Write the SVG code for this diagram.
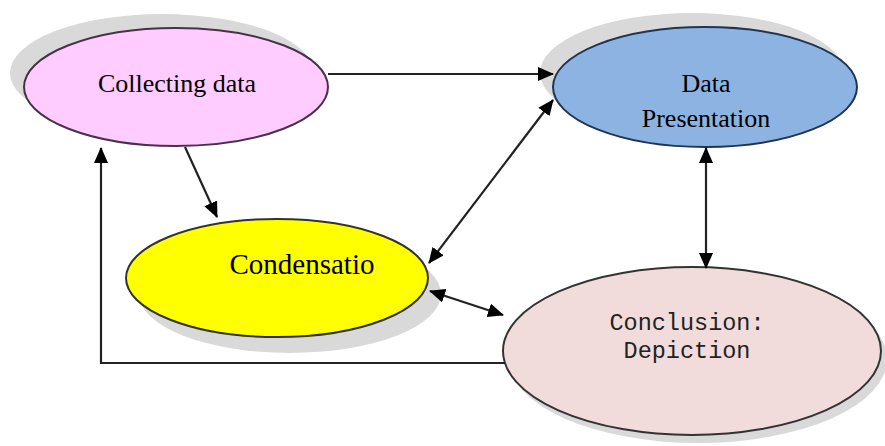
<svg xmlns="http://www.w3.org/2000/svg" width="885" height="446" viewBox="0 0 885 446">
<defs>
<marker id="ah" markerUnits="userSpaceOnUse" markerWidth="16" markerHeight="14" refX="15" refY="7" orient="auto-start-reverse">
<path d="M0,0 L16,7 L0,14 Z" fill="#000"/>
</marker>
<style>
.shadow{fill:#d9d9d9;stroke:none}
.node{stroke-width:2}
.serif{font-family:"Liberation Serif","Times New Roman",serif;fill:#000}
.mono{font-family:"Liberation Mono","Courier New",monospace;fill:#222}
.conn{fill:none;stroke:#222;stroke-width:2.2}
</style>
</defs>
<rect width="885" height="446" fill="#fff"/>
<g id="node-collecting">
<ellipse class="shadow" cx="162" cy="73" rx="152" ry="59"/>
<ellipse class="node" cx="176" cy="87" rx="152" ry="59" fill="#ffccff" stroke="#4a2f4a"/>
<text class="serif" x="177" y="92" font-size="26" text-anchor="middle">Collecting data</text>
</g>
<g id="node-presentation">
<ellipse class="shadow" cx="692" cy="73" rx="152" ry="60"/>
<ellipse class="node" cx="705" cy="87" rx="152" ry="60" fill="#8db3e2" stroke="#1f3553"/>
<text class="serif" x="706" y="92" font-size="26" text-anchor="middle">Data</text>
<text class="serif" x="706" y="127" font-size="26" text-anchor="middle">Presentation</text>
</g>
<g id="node-condensatio">
<ellipse class="shadow" cx="290" cy="294" rx="151" ry="59" fill="#d8d8e0"/>
<ellipse class="node" cx="277" cy="278" rx="151" ry="59" fill="#ffff00" stroke="#333"/>
<text class="serif" x="302" y="274" font-size="29" text-anchor="middle">Condensatio</text>
</g>
<g id="node-conclusion">
<ellipse class="shadow" cx="698" cy="359" rx="189" ry="84"/>
<ellipse class="node" cx="692" cy="351" rx="189" ry="84" fill="#f2dcdb" stroke="#333"/>
<text class="mono" x="687" y="330" font-size="23.5" text-anchor="middle">Conclusion:</text>
<text class="mono" x="687" y="358" font-size="23.5" text-anchor="middle">Depiction</text>
</g>
<g id="connectors">
<line class="conn" x1="328" y1="74" x2="553" y2="74" marker-end="url(#ah)"/>
<line class="conn" x1="553" y1="100" x2="429" y2="263" marker-start="url(#ah)" marker-end="url(#ah)"/>
<line class="conn" x1="185" y1="147" x2="217" y2="217" marker-end="url(#ah)"/>
<line class="conn" x1="706" y1="148" x2="706" y2="268" marker-start="url(#ah)" marker-end="url(#ah)"/>
<line class="conn" x1="430" y1="291" x2="503" y2="315" marker-start="url(#ah)" marker-end="url(#ah)"/>
<polyline class="conn" points="505,363 101,363 101,148" stroke="#555" marker-end="url(#ah)"/>
</g>
</svg>
